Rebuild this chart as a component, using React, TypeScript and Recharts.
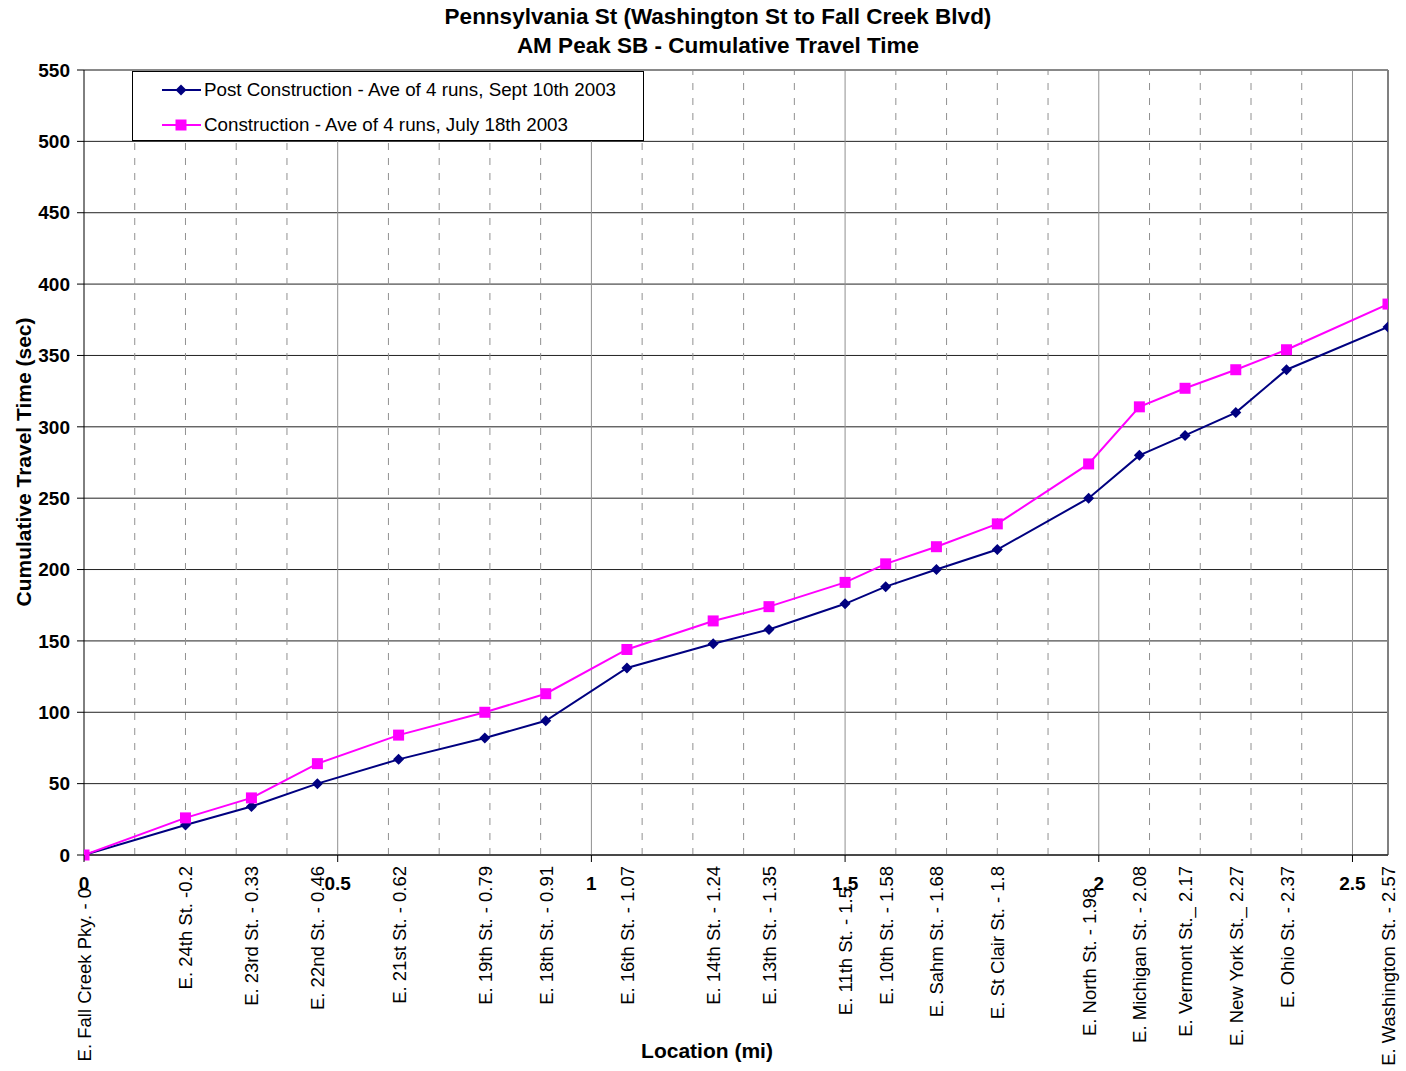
import React from 'react'
import { CartesianGrid, Legend, Line, LineChart, ReferenceLine, XAxis, YAxis } from 'recharts'

const FONT = 'Arial, "Liberation Sans", sans-serif'

const locations = [
  'E. Fall Creek Pky. - 0', 'E. 24th St. -0.2', 'E. 23rd St. - 0.33', 'E. 22nd St. - 0.46',
  'E. 21st St. - 0.62', 'E. 19th St. - 0.79', 'E. 18th St. - 0.91', 'E. 16th St. - 1.07',
  'E. 14th St. - 1.24', 'E. 13th St. - 1.35', 'E. 11th St. - 1.5', 'E. 10th St. - 1.58',
  'E. Sahm St. - 1.68', 'E. St Clair St. - 1.8', 'E. North St. - 1.98', 'E. Michigan St. - 2.08',
  'E. Vermont St._ 2.17', 'E. New York St._ 2.27', 'E. Ohio St. - 2.37', 'E. Washington St. - 2.57',
]
const miles = [0, 0.2, 0.33, 0.46, 0.62, 0.79, 0.91, 1.07, 1.24, 1.35, 1.5, 1.58, 1.68, 1.8, 1.98, 2.08, 2.17, 2.27, 2.37, 2.57]
const postConstruction = [0, 21, 34, 50, 67, 82, 94, 131, 148, 158, 176, 188, 200, 214, 250, 280, 294, 310, 340, 370]
const construction = [0, 26, 40, 64, 84, 100, 113, 144, 164, 174, 191, 204, 216, 232, 274, 314, 327, 340, 354, 386]

const xMajor = [0, 0.5, 1, 1.5, 2, 2.5]
const xMinor = [0.1, 0.2, 0.3, 0.4, 0.6, 0.7, 0.8, 0.9, 1.1, 1.2, 1.3, 1.4, 1.6, 1.7, 1.8, 1.9, 2.1, 2.2, 2.3, 2.4]
const yTicks = [0, 50, 100, 150, 200, 250, 300, 350, 400, 450, 500, 550]

const POST_NAME = 'Post Construction - Ave of 4 runs, Sept 10th 2003'
const CONS_NAME = 'Construction - Ave of 4 runs, July 18th 2003'
const NAVY = '#000080'
const MAGENTA = '#FF00FF'

const data = miles.map((m, i) => ({ mile: m, post: postConstruction[i], cons: construction[i] }))
const xTicks = Array.from(new Set([...xMajor, ...miles])).sort((a, b) => a - b)

function Diamond({ cx, cy }: any) {
  if (cx == null || cy == null) return null
  const r = 5.5
  return <path d={`M${cx},${cy - r}L${cx + r},${cy}L${cx},${cy + r}L${cx - r},${cy}Z`} fill={NAVY} />
}

function Square({ cx, cy }: any) {
  if (cx == null || cy == null) return null
  return <rect x={cx - 5.5} y={cy - 5.5} width={11} height={11} fill={MAGENTA} />
}

function XTick({ x, y, payload }: any) {
  const v = payload.value
  const idx = miles.indexOf(v)
  // labels sitting on a bold major tick label get pushed down a bit
  const nearMajor = xMajor.some((m) => Math.abs(m - v) < 0.03)
  const top = y + (nearMajor ? 33 : 11)
  return (
    <g>
      {xMajor.includes(v) && (
        <>
          <line x1={x} y1={y} x2={x} y2={y + 7} stroke="#000" />
          <text x={x} y={y + 35} textAnchor="middle" fontFamily={FONT} fontWeight="bold" fontSize={19} fill="#000">
            {String(v)}
          </text>
        </>
      )}
      {idx >= 0 && (
        <text
          x={x + 7}
          y={top}
          transform={`rotate(-90, ${x + 7}, ${top})`}
          textAnchor="end"
          fontFamily={FONT}
          fontSize={18.5}
          fill="#000"
        >
          {locations[idx]}
        </text>
      )}
    </g>
  )
}

function LegendBox() {
  const rows = [
    { name: POST_NAME, color: NAVY, shape: 'diamond' },
    { name: CONS_NAME, color: MAGENTA, shape: 'square' },
  ]
  return (
    <div
      style={{
        width: 512, height: 70, boxSizing: 'border-box', border: '1px solid #000', background: '#fff',
        fontFamily: FONT, fontSize: 18.8, color: '#000', position: 'relative',
      }}
    >
      {rows.map((r, i) => (
        <div key={r.name} style={{ position: 'absolute', left: 28, top: i === 0 ? 7 : 42, height: 22, display: 'flex', alignItems: 'center' }}>
          <svg width={42} height={14}>
            <line x1={1} y1={7} x2={40} y2={7} stroke={r.color} strokeWidth={2} />
            {r.shape === 'diamond'
              ? <path d="M20,1.5L25.5,7L20,12.5L14.5,7Z" fill={r.color} />
              : <rect x={14.5} y={1.5} width={11} height={11} fill={r.color} />}
          </svg>
          <span style={{ marginLeft: 1, whiteSpace: 'nowrap' }}>{r.name}</span>
        </div>
      ))}
    </div>
  )
}

export default function App() {
  return (
    <div style={{ position: 'absolute', left: 0, top: 0, width: 1406, height: 1071, background: '#fff' }}>
      <div
        style={{
          position: 'absolute', left: 0, top: 2, width: 1436, textAlign: 'center', fontFamily: FONT,
          fontWeight: 'bold', fontSize: 22.5, lineHeight: '29px', color: '#000', zIndex: 2,
        }}
      >
        <div>Pennsylvania St (Washington St to Fall Creek Blvd)</div>
        <div>AM Peak SB - Cumulative Travel Time</div>
      </div>
      <LineChart width={1406} height={1071} data={data} margin={{ top: 70, right: 18, left: 0, bottom: 0 }}>
        <CartesianGrid vertical={false} stroke="#222" />
        {xMinor.map((v) => (
          <ReferenceLine key={`mn${v}`} x={v} stroke="#909090" strokeDasharray="7 8" />
        ))}
        {xMajor.slice(1).map((v) => (
          <ReferenceLine key={`mj${v}`} x={v} stroke="#909090" />
        ))}
        <ReferenceLine y={550} stroke="#808080" />
        <ReferenceLine x={2.57} stroke="#808080" strokeWidth={2} />
        <XAxis
          dataKey="mile"
          type="number"
          domain={[0, 2.57]}
          ticks={xTicks}
          interval={0}
          tickLine={false}
          tickSize={0}
          tickMargin={0}
          height={216}
          axisLine={{ stroke: '#000' }}
          tick={<XTick />}
          allowDataOverflow
          label={() => (
            <text x={707} y={1058} textAnchor="middle" fontFamily={FONT} fontWeight="bold" fontSize={21} fill="#000">
              Location (mi)
            </text>
          )}
        />
        <YAxis
          width={84}
          domain={[0, 550]}
          ticks={yTicks}
          interval={0}
          tickSize={7}
          tickMargin={7}
          axisLine={{ stroke: '#000' }}
          tickLine={{ stroke: '#000' }}
          tick={{ fill: '#000', fontFamily: FONT, fontWeight: 'bold', fontSize: 19 }}
          label={() => (
            <text
              x={31}
              y={462}
              transform="rotate(-90, 31, 462)"
              textAnchor="middle"
              fontFamily={FONT}
              fontWeight="bold"
              fontSize={21}
              fill="#000"
            >
              Cumulative Travel Time (sec)
            </text>
          )}
        />
        <Legend
          layout="vertical"
          align="center"
          verticalAlign="middle"
          wrapperStyle={{ left: 132, top: 71, width: 512, height: 70 }}
          content={() => <LegendBox />}
        />
        <Line
          dataKey="post"
          name={POST_NAME}
          stroke={NAVY}
          strokeWidth={2}
          dot={<Diamond />}
          activeDot={false}
          isAnimationActive={false}
        />
        <Line
          dataKey="cons"
          name={CONS_NAME}
          stroke={MAGENTA}
          strokeWidth={2}
          dot={<Square />}
          activeDot={false}
          isAnimationActive={false}
        />
      </LineChart>
    </div>
  )
}
